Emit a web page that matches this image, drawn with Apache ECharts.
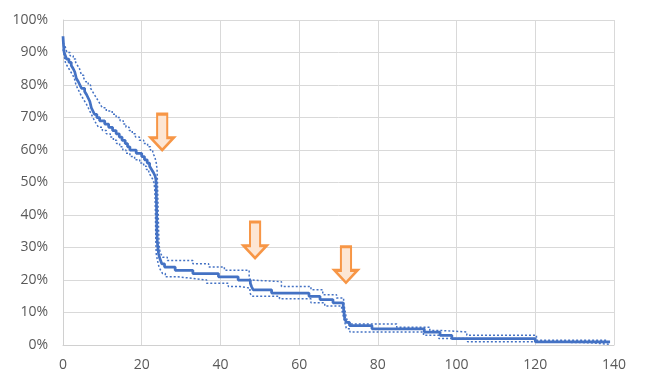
<!DOCTYPE html>
<html>
<head>
<meta charset="utf-8">
<script src="https://cdn.jsdelivr.net/npm/echarts@6/dist/echarts.min.js"></script>
<style>
html,body{margin:0;padding:0;background:#fff;}
#chart{width:646px;height:388px;}
</style>
</head>
<body>
<div id="chart"></div>
<script>
// Survival estimate (step points: [time, value after step], %)
var mainCurve = [[0,95],[0.15,92],[0.3,90],[0.6,89],[0.9,88],[1.5,87],[2.1,86],[2.6,85],[3.0,84],[3.4,82],[3.9,81],[4.3,80],[4.7,79],[5.5,78],[6.0,77],[6.4,76],[6.8,75],[7.2,73],[7.6,72],[8.0,71],[8.6,70],[9.3,69],[10.6,68],[11.6,67],[12.6,66],[13.5,65],[14.3,64],[15.0,63],[15.8,62],[16.4,61],[17.0,60],[18.6,59],[20.0,58],[20.7,57],[21.4,56],[22.0,55],[22.5,54],[23.0,53],[23.4,52],[23.6,51],[23.7,48],[23.75,44],[23.8,40],[23.85,35],[23.95,32],[24.1,30],[24.3,28],[24.5,27],[24.8,26],[25.1,25],[25.8,24],[28.5,23],[33,22],[39.5,21],[44.5,20],[47.6,19],[47.9,18],[48.3,17],[53,16],[62.5,15],[65.3,14],[68.6,13],[71.2,12],[71.4,10],[71.6,8],[72.0,7],[72.8,6],[78.5,5],[91.8,4],[95.8,3],[98.8,2],[120,1],[139,1]];
var upperCI = [[0,93],[0.5,92],[1.0,90],[1.8,89],[2.6,88],[3.2,87],[3.7,86],[4.2,85],[4.7,83],[5.3,82],[5.8,81],[6.4,80],[7.0,79],[7.5,78],[8.0,77],[8.5,76],[9.0,75],[9.5,74],[10.0,73],[11.0,72],[12.5,71],[13.5,70],[14.5,69],[15.3,68],[16.0,67],[16.8,66],[17.6,65],[18.4,64],[19.4,63],[20.5,62],[21.5,61],[22.2,60],[22.8,59],[23.3,58],[23.7,56],[23.9,54],[24.0,50],[24.1,45],[24.2,40],[24.3,35],[24.4,31],[24.6,29],[24.9,28],[25.3,27],[26.5,26],[33,25],[37,24],[41,23],[47.3,21],[47.6,20],[48.0,19.5],[55.5,18],[63,17],[66,15.5],[69.5,14.5],[71.3,13],[71.6,11],[71.9,9],[72.2,7.5],[72.6,6.5],[84.8,5.5],[93.2,4.5],[95.8,4],[102.6,3],[120.3,1.5],[138,1.5]];
var lowerCI = [[0,91],[0.3,89],[0.6,87],[1.0,86],[1.5,85],[2.0,84],[2.5,83],[2.9,82],[3.3,80],[3.7,79],[4.1,78],[4.5,77],[5.0,76],[5.5,75],[6.0,74],[6.4,73],[6.8,72],[7.2,71],[7.6,70],[8.0,69],[8.5,68],[9.0,67],[10.0,66],[11.0,65],[12.0,64],[12.8,63],[13.6,62],[14.4,61],[15.2,60],[16.0,59],[17.0,58],[18.2,57],[19.5,56],[20.5,55],[21.2,54],[21.8,53],[22.3,52],[22.8,51],[23.1,50],[23.3,48],[23.4,45],[23.5,40],[23.55,35],[23.6,31],[23.7,28],[24.0,26],[24.4,24],[24.8,23],[25.3,22],[26.0,21],[29.0,20.5],[33,20],[36.5,19],[42,18],[45,17.5],[47.5,16],[48.0,15],[55,14.2],[63,13],[66.5,12],[70.8,11],[71.2,9],[71.6,7],[72.0,5],[72.9,4],[91.6,3],[95.5,2],[102.8,1],[120,0.7],[134,0.2],[139,0.2]];
// annotation arrows (center position in data units)
var arrowX = [25.2, 48.8, 71.9];
var arrowY = [65.5, 32.3, 24.7];
// axes
var xTicks = {min: 0, max: 140, step: 20};
var yTicks = {min: 0, max: 100, step: 10};

var blue = '#4472c4';
var arrowPath = 'path://M7,0 L18,0 L18,25 L25,25 L12.5,38 L0,25 L7,25 Z';
var font = 'Open Sans';

var chart = echarts.init(document.getElementById('chart'), null, {renderer: 'canvas'});
chart.setOption({
  animation: false,
  backgroundColor: '#ffffff',
  grid: {left: 63, right: 32, top: 20, bottom: 43},
  xAxis: {
    type: 'value', min: xTicks.min, max: xTicks.max, interval: xTicks.step,
    axisLine: {show: true, onZero: false, lineStyle: {color: '#d0d0d0', width: 1}},
    axisTick: {show: false},
    axisLabel: {color: '#595959', fontSize: 14, fontFamily: font, margin: 13},
    splitLine: {show: true, lineStyle: {color: '#d9d9d9', width: 1}}
  },
  yAxis: {
    type: 'value', min: yTicks.min, max: yTicks.max, interval: yTicks.step,
    axisLine: {show: true, lineStyle: {color: '#d0d0d0', width: 1}},
    axisTick: {show: false},
    axisLabel: {color: '#595959', fontSize: 14, fontFamily: font, margin: 15, formatter: '{value}%'},
    splitLine: {show: true, lineStyle: {color: '#d9d9d9', width: 1}}
  },
  series: [
    {type: 'line', data: upperCI, step: 'end', showSymbol: false, symbol: 'none',
     lineStyle: {color: blue, width: 1.5, type: [2, 2]}, z: 2},
    {type: 'line', data: lowerCI, step: 'end', showSymbol: false, symbol: 'none',
     lineStyle: {color: blue, width: 1.5, type: [2, 2]}, z: 2},
    {type: 'line', data: mainCurve, step: 'end', showSymbol: false, symbol: 'none',
     lineStyle: {color: blue, width: 2.75}, z: 3},
    {type: 'scatter', data: arrowX.map(function(x, i){ return [x, arrowY[i]]; }),
     symbol: arrowPath, symbolSize: [23, 36], symbolKeepAspect: false,
     itemStyle: {color: '#fde6d4', borderColor: '#f79646', borderWidth: 2.5, opacity: 1},
     z: 5}
  ]
});
</script>
</body>
</html>
